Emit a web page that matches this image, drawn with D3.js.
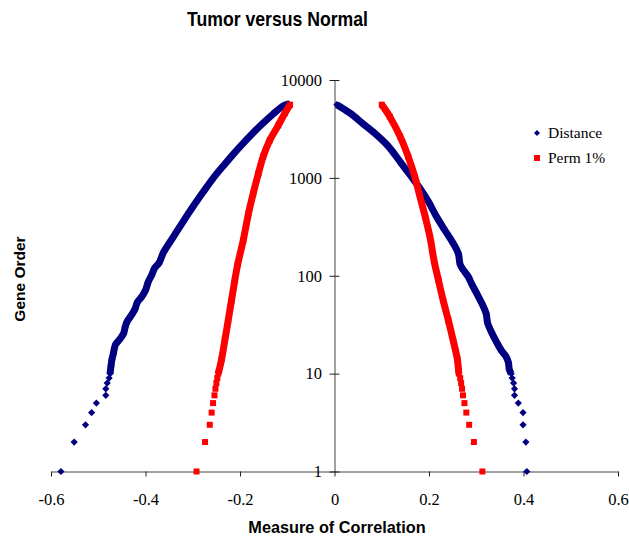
<!DOCTYPE html>
<html>
<head>
<meta charset="utf-8">
<script src="https://cdn.jsdelivr.net/npm/d3@7"></script>
<style>
  html, body { margin: 0; padding: 0; background: #fff; }
  svg { display: block; }
</style>
</head>
<body>
<svg id="chart" width="629" height="539"></svg>
<script>
// Gene order (rank) against correlation, [rank, correlation]
const distanceNeg = [
  [1,-0.579],[2,-0.551],[3,-0.527],[4,-0.514],[5,-0.504],[6,-0.484],[7,-0.484],[8,-0.481],
  [9,-0.477],[10,-0.475],[12,-0.473],[14,-0.471],[16,-0.468],[18,-0.466],[20,-0.463],
  [22,-0.456],[24,-0.450],[26,-0.446],[30,-0.443],[34,-0.439],[40,-0.429],[46,-0.422],
  [54,-0.417],[61,-0.408],[71,-0.400],[87,-0.394],[101,-0.387],[119,-0.381],[136,-0.371],
  [173,-0.362],[250,-0.341],[360,-0.320],[512,-0.299],[716,-0.278],[988,-0.257],
  [1330,-0.235],[1750,-0.214],[2266,-0.193],[2890,-0.172],[3630,-0.151],[4485,-0.130],
  [5450,-0.108],[5700,-0.097]
];
const distancePos = [
  [1,0.407],[2,0.405],[3,0.399],[4,0.399],[5,0.389],[6,0.381],[7,0.381],[8,0.379],
  [9,0.376],[10,0.374],[11,0.370],[13,0.368],[15,0.363],[17,0.354],[21,0.343],[26,0.333],
  [33,0.324],[41,0.321],[52,0.312],[66,0.301],[83,0.290],[98,0.283],[114,0.273],
  [130,0.266],[169,0.262],[215,0.251],[290,0.234],[400,0.216],[570,0.199],[780,0.181],
  [1070,0.160],[1460,0.139],[2100,0.114],[2750,0.089],[3550,0.061],[4580,0.033],[5600,0.005]
];
const permNeg = [
  [1,-0.292],[2,-0.274],[3,-0.264],[4,-0.260],[5,-0.257],[6,-0.254],[7,-0.252],[8,-0.250],
  [9,-0.248],[10,-0.246],[14,-0.239],[22,-0.232],[35,-0.225],[56,-0.218],[90,-0.211],
  [130,-0.205],[232,-0.193],[433,-0.182],[695,-0.172],[1110,-0.161],[1650,-0.151],
  [2420,-0.137],[3440,-0.119],[4580,-0.105],[5600,-0.094]
];
const permPos = [
  [1,0.313],[2,0.295],[3,0.285],[4,0.279],[5,0.275],[6,0.272],[7,0.270],[8,0.268],
  [9,0.266],[10,0.263],[14,0.260],[22,0.251],[35,0.241],[56,0.230],[90,0.220],
  [140,0.211],[250,0.202],[400,0.192],[640,0.181],[1025,0.170],[1650,0.156],
  [2640,0.139],[4220,0.117],[5600,0.100]
];
const xTicks = [-0.6,-0.4,-0.2,0,0.2,0.4,0.6];
const yTicks = [1,10,100,1000,10000];

const series = [
  { name: "Distance", color: "#000080", shape: "diamond", branches: [distanceNeg, distancePos] },
  { name: "Perm 1%", color: "#FF0000", shape: "square", branches: [permNeg, permPos] }
];

const svg = d3.select("#chart");
const x = d3.scaleLinear().domain([-0.6, 0.6]).range([51, 618]);
const y = d3.scaleLog().domain([1, 10000]).range([471.5, 80]);

const serif = "'Liberation Serif','Times New Roman',serif";
const sans = "'Liberation Sans',Arial,sans-serif";

// Title
svg.append("text")
  .attr("x", 277.5).attr("y", 26)
  .attr("text-anchor", "middle")
  .attr("font-family", sans).attr("font-weight", "bold").attr("font-size", 20.5)
  .attr("textLength", 181).attr("lengthAdjust", "spacingAndGlyphs")
  .text("Tumor versus Normal");

// X axis
const xAxis = svg.append("g")
  .attr("transform", `translate(0,${y(1)})`)
  .call(d3.axisBottom(x).tickValues(xTicks).tickSize(5).tickSizeOuter(0)
    .tickFormat(d => d === 0 ? "0" : d.toFixed(1)));
xAxis.select(".domain").attr("stroke", "#444");
xAxis.selectAll(".tick line").attr("stroke", "#222");
xAxis.selectAll(".tick text")
  .attr("font-family", serif).attr("font-size", 16.5).attr("fill", "#000")
  .attr("y", 33).attr("dy", 0);

// Y axis (log), crossing at x = 0
const yAxis = svg.append("g")
  .attr("transform", `translate(${x(0)},0)`)
  .call(d3.axisLeft(y).tickValues(yTicks).tickSize(5).tickSizeOuter(0).tickPadding(7.5)
    .tickFormat(d3.format("d")));
yAxis.select(".domain").attr("stroke", "#444");
yAxis.selectAll(".tick line").attr("x1", 5).attr("x2", -5).attr("stroke", "#222");
yAxis.selectAll(".tick text")
  .attr("font-family", serif).attr("font-size", 16.5).attr("fill", "#000");

// Axis titles
svg.append("text")
  .attr("x", 337).attr("y", 533)
  .attr("text-anchor", "middle")
  .attr("font-family", sans).attr("font-weight", "bold").attr("font-size", 16.3)
  .text("Measure of Correlation");
svg.append("text")
  .attr("transform", "translate(25,279) rotate(-90)")
  .attr("text-anchor", "middle")
  .attr("font-family", sans).attr("font-weight", "bold").attr("font-size", 15.5)
  .text("Gene Order");

// Marker shapes
function markerPath(shape) {
  if (shape === "diamond") return "M0,-3.6L3.6,0L0,3.6L-3.6,0Z";
  return "M-3,-3H3V3H-3Z";
}

// Dense part of each ranking drawn as a thick band, every sampled rank as a marker
const band = d3.line()
  .x(d => x(d[1])).y(d => y(d[0]))
  .curve(d3.curveCatmullRom.alpha(0.5));

const plot = svg.append("g");
series.forEach(s => {
  s.branches.forEach(pts => {
    plot.append("path")
      .datum(pts.filter(d => d[0] >= 10))
      .attr("d", band)
      .attr("fill", "none")
      .attr("stroke", s.color)
      .attr("stroke-width", 7)
      .attr("stroke-linejoin", "round")
      .attr("stroke-linecap", "butt");
    plot.selectAll(null)
      .data(pts)
      .join("path")
      .attr("transform", d => `translate(${x(d[1])},${y(d[0])})`)
      .attr("d", markerPath(s.shape))
      .attr("fill", s.color);
  });
});

// Legend
const legend = svg.append("g");
series.forEach((s, i) => {
  const cy = 133 + i * 25;
  legend.append("path")
    .attr("transform", `translate(537,${cy})`)
    .attr("d", s.shape === "diamond" ? "M0,-3L3,0L0,3L-3,0Z" : "M-3,-3H3V3H-3Z")
    .attr("fill", s.color);
  legend.append("text")
    .attr("x", 548).attr("y", cy + 5)
    .attr("font-family", serif).attr("font-size", 15.5)
    .text(s.name);
});
</script>
</body>
</html>
